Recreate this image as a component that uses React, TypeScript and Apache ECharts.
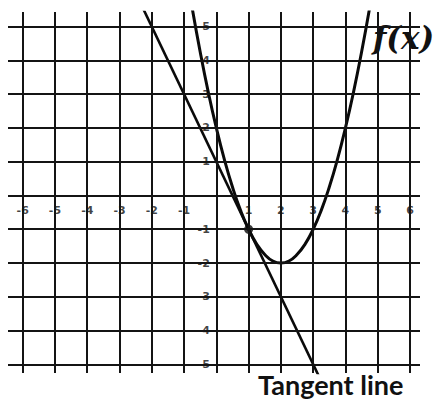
import React, { useEffect, useRef } from "react";
import * as echarts from "echarts";

const xGridValues = [-6, -5, -4, -3, -2, -1, 0, 1, 2, 3, 4, 5, 6];
const yGridValues = [-5, -4, -3, -2, -1, 0, 1, 2, 3, 4, 5];
const xTickLabels = ["-6", "-5", "-4", "-3", "-2", "-1", "1", "2", "3", "4", "5", "6"];
const xTickValues = [-6, -5, -4, -3, -2, -1, 1, 2, 3, 4, 5, 6];
const yTickLabels = ["5", "4", "3", "2", "1", "-1", "-2", "-3", "-4", "-5"];
const yTickValues = [5, 4, 3, 2, 1, -1, -2, -3, -4, -5];

// f(x) points
const parabolaX = [-0.75, -0.5, -0.25, 0, 0.25, 0.5, 0.75, 1, 1.25, 1.5, 1.75, 2, 2.25, 2.5, 2.75, 3, 3.25, 3.5, 3.75, 4, 4.25, 4.5, 4.75];
const parabolaY = [5.56, 4.25, 3.06, 2, 1.06, 0.25, -0.44, -1, -1.44, -1.75, -1.94, -2, -1.94, -1.75, -1.44, -1, -0.44, 0.25, 1.06, 2, 3.06, 4.25, 5.56];

// Tangent line endpoints (extends beyond the plot, clipped)
const tangentX = [-2.5, 3.5];
const tangentY = [6, -6];

const tangentPoint = [1, -1];

export default function App() {
  const ref = useRef<HTMLDivElement>(null);
  useEffect(() => {
    if (!ref.current) return;
    const chart = echarts.init(ref.current, null, { renderer: "svg" });
    const lineColor = "#141414";
    chart.setOption({
      animation: false,
      backgroundColor: "#ffffff",
      grid: { left: 8, top: 12, right: 16, bottom: 29 },
      xAxis: {
        type: "value",
        min: -6.455,
        max: 6.31,
        show: false,
      },
      yAxis: {
        type: "value",
        min: -5.258,
        max: 5.435,
        show: false,
      },
      graphic: [
        {
          type: "text",
          left: 373,
          top: 22,
          style: {
            text: "f(x)",
            font: "bold italic 31px 'DejaVu Serif'",
            fill: "#111",
          },
        },
        {
          type: "text",
          left: 258,
          top: 371,
          style: {
            text: "Tangent line",
            font: "bold 27px Lato",
            fill: "#111",
          },
        },
      ],
      series: [
        {
          type: "line",
          name: "grid",
          data: [[0, 0]],
          symbol: "none",
          lineStyle: { width: 0 },
          silent: true,
          markLine: {
            silent: true,
            symbol: ["none", "none"],
            label: { show: false },
            lineStyle: { color: lineColor, width: 2, type: "solid" },
            emphasis: { disabled: true },
            data: [
              ...xGridValues.map((v) => ({ xAxis: v })),
              ...yGridValues.map((v) => ({ yAxis: v })),
            ],
          },
        },
        {
          type: "scatter",
          name: "xlabels",
          symbolSize: 1,
          itemStyle: { color: "rgba(0,0,0,0)" },
          silent: true,
          data: xTickValues.map((v, i) => ({ value: [v, 0], name: xTickLabels[i] })),
          label: {
            show: true,
            position: "bottom",
            distance: 9,
            formatter: "{b}",
            fontSize: 11,
            fontWeight: "bold",
            fontFamily: "DejaVu Sans",
            color: "#111",
          },
        },
        {
          type: "scatter",
          name: "ylabels",
          symbolSize: 1,
          itemStyle: { color: "rgba(0,0,0,0)" },
          silent: true,
          data: yTickValues.map((v, i) => ({ value: [0, v], name: yTickLabels[i] })),
          label: {
            show: true,
            position: "left",
            distance: 6,
            formatter: "{b}",
            fontSize: 11,
            fontWeight: "bold",
            fontFamily: "DejaVu Sans",
            color: "#111",
          },
        },
        {
          type: "line",
          name: "f(x)",
          data: parabolaX.map((x, i) => [x, parabolaY[i]]),
          smooth: true,
          symbol: "none",
          clip: true,
          lineStyle: { color: "#0a0a0a", width: 3 },
        },
        {
          type: "line",
          name: "Tangent line",
          data: tangentX.map((x, i) => [x, tangentY[i]]),
          symbol: "none",
          clip: true,
          lineStyle: { color: "#0a0a0a", width: 2.6 },
        },
        {
          type: "scatter",
          name: "point",
          data: [tangentPoint],
          symbolSize: 9,
          itemStyle: { color: "#0a0a0a" },
        },
      ],
    });
    return () => chart.dispose();
  }, []);
  return (
    <div
      ref={ref}
      style={{ position: "fixed", left: 0, top: 0, width: 436, height: 402 }}
    />
  );
}
